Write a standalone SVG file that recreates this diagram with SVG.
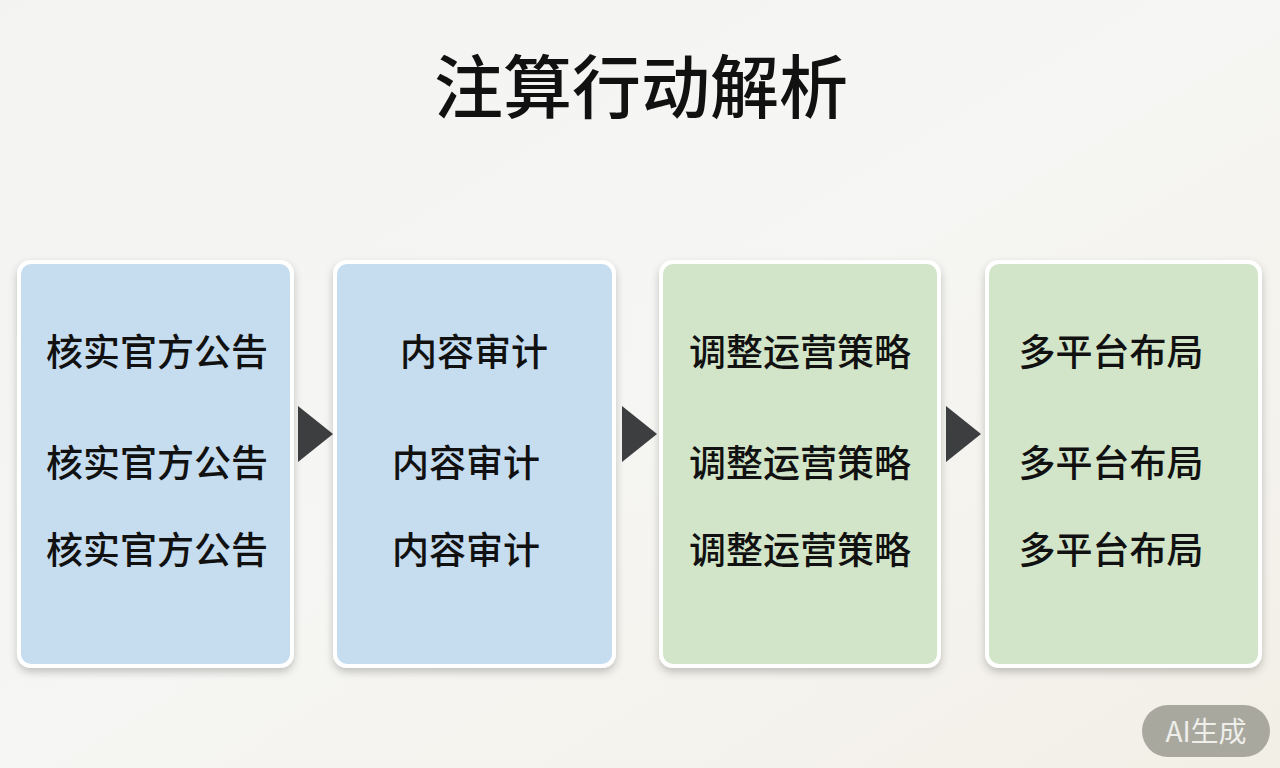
<svg xmlns="http://www.w3.org/2000/svg" width="1280" height="768" viewBox="0 0 1280 768">
<defs>
<linearGradient id="bg" x1="0" y1="0" x2="1" y2="1">
<stop offset="0" stop-color="#f3f3f2"/>
<stop offset="0.5" stop-color="#f6f6f4"/>
<stop offset="1" stop-color="#f2efe6"/>
</linearGradient>
<filter id="sh" x="-10%" y="-10%" width="120%" height="120%">
<feDropShadow dx="0" dy="4" stdDeviation="4" flood-color="#000" flood-opacity="0.22"/>
</filter>
<style>
.box{stroke:#ffffff;stroke-width:4;filter:url(#sh)}
.blue{fill:#c6ddf0}
.green{fill:#d2e5c8}
.t{font-family:"Noto Sans CJK SC","Noto Sans",sans-serif;font-size:37px;font-weight:500;fill:#111;text-anchor:middle}
.arr{fill:#3d3e40}
</style>
</defs>
<rect width="1280" height="768" fill="url(#bg)"/>
<text x="641" y="113" font-family="'Noto Sans CJK SC','Noto Sans',sans-serif" font-size="69" font-weight="500" fill="#111" text-anchor="middle">注算行动解析</text>
<g id="connectors">
<polygon class="arr" points="298,406 333,434 298,462"/>
<polygon class="arr" points="622,406 657,434 622,462"/>
<polygon class="arr" points="946,406 981,434 946,462"/>
</g>
<g id="node1">
<rect class="box blue" x="19" y="262" width="273" height="404" rx="12"/>
<text class="t" x="157" y="366">核实官方公告</text>
<text class="t" x="157" y="477">核实官方公告</text>
<text class="t" x="157" y="564">核实官方公告</text>
</g>
<g id="node2">
<rect class="box blue" x="335" y="262" width="279" height="404" rx="12"/>
<text class="t" x="474" y="366">内容审计</text>
<text class="t" x="466" y="477">内容审计</text>
<text class="t" x="466" y="564">内容审计</text>
</g>
<g id="node3">
<rect class="box green" x="661" y="262" width="278" height="404" rx="12"/>
<text class="t" x="800" y="366">调整运营策略</text>
<text class="t" x="800" y="477">调整运营策略</text>
<text class="t" x="800" y="564">调整运营策略</text>
</g>
<g id="node4">
<rect class="box green" x="987" y="262" width="273" height="404" rx="12"/>
<text class="t" x="1111" y="366">多平台布局</text>
<text class="t" x="1111" y="477">多平台布局</text>
<text class="t" x="1111" y="564">多平台布局</text>
</g>
<g id="watermark">
<rect x="1142" y="705" width="128" height="52" rx="26" fill="#a9a89f"/>
<text x="1206" y="742" font-family="'Noto Sans CJK SC','Noto Sans',sans-serif" font-size="28" fill="#eeeeea" text-anchor="middle">AI生成</text>
</g>
</svg>
